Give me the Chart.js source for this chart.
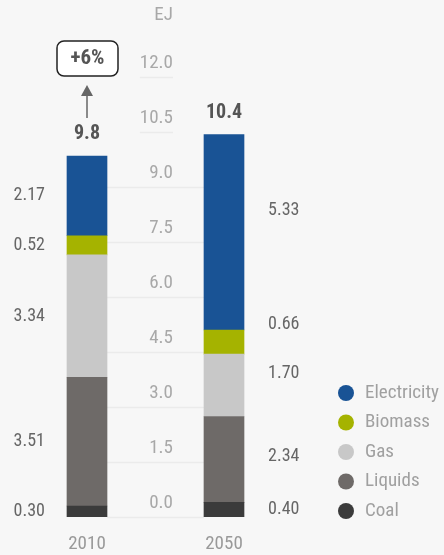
<!DOCTYPE html>
<html lang="en">
<head>
<meta charset="UTF-8">
<title>Final energy demand 2010 / 2050</title>
<script src="https://cdn.jsdelivr.net/npm/chart.js"></script>
<style>
    html, body { margin: 0; padding: 0; background: #f7f7f7; }
    canvas { display: block; }
</style>
</head>
<body>
<canvas id="energyChart" width="444" height="555"></canvas>
<script>
    // data (EJ)
    const years = ['2010', '2050'];
    const coal = [0.30, 0.40];
    const liquids = [3.51, 2.34];
    const gas = [3.34, 1.70];
    const biomass = [0.52, 0.66];
    const electricity = [2.17, 5.33];
    const growthLabel = '+6%';
    const unitLabel = 'EJ';
    const yMax = 12;
    const yStep = 1.5;

    const FONT = '"Roboto Condensed", "DejaVu Sans Condensed", Roboto, sans-serif';

    // small nudges for the 2050 value labels (px), the original spreads them out a bit
    const rightNudge = [0, -3, -12, -18, -22];

    const overlay = {
        id: 'overlay',
        beforeDatasetsDraw(chart) {
            const ctx = chart.ctx;
            const y = chart.scales.y;
            const b0 = chart.getDatasetMeta(0).data[0];
            const b1 = chart.getDatasetMeta(0).data[1];
            const gapL = b0.x + b0.width / 2;
            const gapR = b1.x - b1.width / 2;
            const labelRight = (gapL + gapR) / 2 + 17.5;
            const lowestTop = Math.min(...years.map((_, j) =>
                coal[j] + liquids[j] + gas[j] + biomass[j] + electricity[j]));

            ctx.save();
            ctx.font = '19px ' + FONT;
            ctx.textAlign = 'right';
            ctx.textBaseline = 'middle';
            for (let v = 0; v <= yMax + 0.001; v += yStep) {
                const py = Math.round(y.getPixelForValue(v)) + 0.5;
                const txt = v.toFixed(1);
                const w = ctx.measureText(txt).width;
                ctx.strokeStyle = '#ebebeb';
                ctx.lineWidth = 1.5;
                ctx.beginPath();
                if (v <= lowestTop) {
                    ctx.moveTo(gapL, py);
                    ctx.lineTo(gapR, py);
                } else {
                    ctx.moveTo(labelRight - w, py);
                    ctx.lineTo(labelRight, py);
                }
                ctx.stroke();
                ctx.fillStyle = '#a8a8a8';
                ctx.fillText(txt, labelRight, py - 14);
            }
            ctx.fillText(unitLabel, labelRight, 15);
            ctx.restore();
        },
        afterDatasetsDraw(chart) {
            const ctx = chart.ctx;
            const area = chart.chartArea;
            const sets = chart.data.datasets;
            ctx.save();
            ctx.textBaseline = 'middle';

            // segment values
            ctx.font = '18px ' + FONT;
            ctx.fillStyle = '#666';
            sets.forEach((ds, i) => {
                const meta = chart.getDatasetMeta(i);
                meta.data.forEach((bar, j) => {
                    const mid = (bar.y + bar.base) / 2;
                    const txt = ds.data[j].toFixed(2);
                    if (j === 0) {
                        ctx.textAlign = 'right';
                        ctx.fillText(txt, bar.x - bar.width / 2 - 22, mid);
                    } else {
                        ctx.textAlign = 'left';
                        ctx.fillText(txt, bar.x + bar.width / 2 + 24, mid + rightNudge[i]);
                    }
                });
            });

            // totals
            const topMeta = chart.getDatasetMeta(sets.length - 1);
            ctx.font = 'bold 20px ' + FONT;
            ctx.fillStyle = '#555';
            ctx.textAlign = 'center';
            topMeta.data.forEach((bar, j) => {
                const total = sets.reduce((s, ds) => s + ds.data[j], 0);
                ctx.fillText(total.toFixed(1), bar.x, bar.y - 22);
            });

            // growth arrow and box above 2010
            const bx = topMeta.data[0].x;
            ctx.strokeStyle = '#666';
            ctx.fillStyle = '#666';
            ctx.lineWidth = 1.5;
            ctx.beginPath();
            ctx.moveTo(bx, 118);
            ctx.lineTo(bx, 95);
            ctx.stroke();
            ctx.beginPath();
            ctx.moveTo(bx - 6, 96);
            ctx.lineTo(bx + 6, 96);
            ctx.lineTo(bx, 85);
            ctx.closePath();
            ctx.fill();

            ctx.fillStyle = '#fff';
            ctx.strokeStyle = '#222';
            ctx.lineWidth = 1.5;
            ctx.beginPath();
            ctx.roundRect(bx - 30, 41, 61, 35, 7);
            ctx.fill();
            ctx.stroke();
            ctx.font = 'bold 21px ' + FONT;
            ctx.fillStyle = '#555';
            ctx.fillText(growthLabel, bx + 0.5, 59);

            // legend, top series first
            ctx.font = '19px ' + FONT;
            ctx.textAlign = 'left';
            const lx = area.right + 53.5;
            const rows = sets.slice().reverse();
            rows.forEach((ds, k) => {
                const ly = area.bottom - 6 - (rows.length - 1 - k) * 29.5;
                ctx.fillStyle = ds.backgroundColor;
                ctx.beginPath();
                ctx.arc(lx, ly, 8, 0, Math.PI * 2);
                ctx.fill();
                ctx.fillStyle = '#a0a0a0';
                ctx.fillText(ds.label, lx + 19, ly);
            });
            ctx.restore();
        }
    };

    new Chart(document.getElementById('energyChart').getContext('2d'), {
        type: 'bar',
        data: {
            labels: years,
            datasets: [
                { label: 'Coal', data: coal, backgroundColor: '#3b3b3b' },
                { label: 'Liquids', data: liquids, backgroundColor: '#6e6a68' },
                { label: 'Gas', data: gas, backgroundColor: '#c8c8c8' },
                { label: 'Biomass', data: biomass, backgroundColor: '#a5b300' },
                { label: 'Electricity', data: electricity, backgroundColor: '#195395' }
            ]
        },
        options: {
            responsive: false,
            animation: false,
            layout: { padding: { top: 77, left: 18.5, right: 151.5, bottom: 0 } },
            datasets: { bar: { barThickness: 40 } },
            plugins: {
                legend: { display: false },
                tooltip: { enabled: false }
            },
            scales: {
                x: {
                    stacked: true,
                    grid: { display: false, drawTicks: false },
                    border: { display: false },
                    ticks: { color: '#999', padding: 16, font: { size: 19, family: FONT } },
                    afterFit(scale) { scale.height = 38; }
                },
                y: {
                    stacked: true,
                    display: false,
                    min: 0,
                    max: yMax
                }
            }
        },
        plugins: [overlay]
    });
</script>
</body>
</html>
